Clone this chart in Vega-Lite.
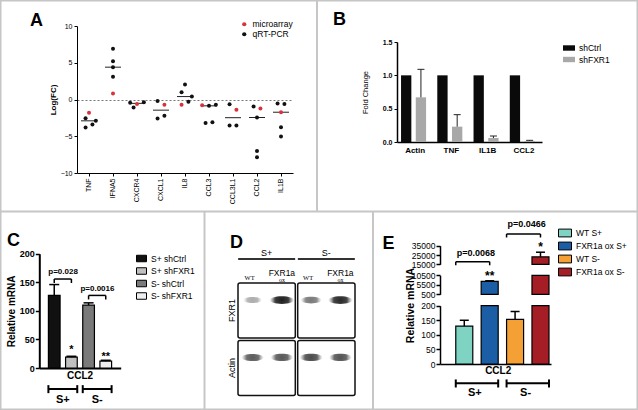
{
  "$schema": "https://vega.github.io/schema/vega-lite/v6.json",
  "width": 638,
  "height": 410,
  "autosize": "none",
  "padding": 0,
  "config": {
    "font": "Liberation Sans",
    "view": {"stroke": "#c6c6c6", "strokeWidth": 3},
    "axis": {"grid": false, "domainColor": "#000000", "tickColor": "#000000", "labelColor": "#000000", "titleColor": "#000000"},
    "legend": {"labelColor": "#000000"}
  },
  "resolve": {
    "scale": {"x": "independent", "y": "independent", "xOffset": "independent", "color": "independent", "opacity": "independent", "size": "independent"},
    "axis": {"x": "independent", "y": "independent"},
    "legend": {"color": "independent"}
  },
  "layer": [
    {
      "data": {"values": [{"v": 0}]},
      "mark": {"type": "point", "opacity": 0},
      "encoding": {
        "x": {"field": "v", "type": "quantitative", "scale": {"domain": [0, 1], "range": [0, 638]}, "axis": {"orient": "top", "offset": -211, "labels": false, "ticks": false, "title": null, "domainColor": "#c6c6c6", "domainWidth": 2}},
        "y": {"field": "v", "type": "quantitative", "scale": {"domain": [0, 1], "range": [0, 211]}, "axis": {"orient": "left", "offset": -316.5, "labels": false, "ticks": false, "title": null, "domainColor": "#c6c6c6", "domainWidth": 2}}
      }
    },
    {
      "data": {"values": [{"v": 0}]},
      "mark": {"type": "point", "opacity": 0},
      "encoding": {
        "y": {"field": "v", "type": "quantitative", "scale": {"domain": [0, 1], "range": [211, 410]}, "axis": {"orient": "left", "offset": -204, "labels": false, "ticks": false, "title": null, "domainColor": "#c6c6c6", "domainWidth": 2}}
      }
    },
    {
      "data": {"values": [{"v": 0}]},
      "mark": {"type": "point", "opacity": 0},
      "encoding": {
        "y": {"field": "v", "type": "quantitative", "scale": {"domain": [0, 1], "range": [211, 410]}, "axis": {"orient": "left", "offset": -372.5, "labels": false, "ticks": false, "title": null, "domainColor": "#c6c6c6", "domainWidth": 2}}
      }
    },
    {
      "data": {"values": [
        {"gene": "TNF", "method": "microarray", "value": -1.8, "slot": 0},
        {"gene": "TNF", "method": "qRT-PCR", "value": -2.55, "slot": -1},
        {"gene": "TNF", "method": "qRT-PCR", "value": -3.8, "slot": -1},
        {"gene": "TNF", "method": "qRT-PCR", "value": -3.4, "slot": 1},
        {"gene": "TNF", "method": "qRT-PCR", "value": -2.9, "slot": 2},
        {"gene": "IFNA5", "method": "qRT-PCR", "value": 6.9, "slot": 0},
        {"gene": "IFNA5", "method": "qRT-PCR", "value": 5.2, "slot": 0},
        {"gene": "IFNA5", "method": "qRT-PCR", "value": 4.4, "slot": 0},
        {"gene": "IFNA5", "method": "qRT-PCR", "value": 3.1, "slot": 0},
        {"gene": "IFNA5", "method": "microarray", "value": 0.8, "slot": 0},
        {"gene": "CXCR4", "method": "qRT-PCR", "value": -0.45, "slot": -2},
        {"gene": "CXCR4", "method": "qRT-PCR", "value": -1.1, "slot": -1},
        {"gene": "CXCR4", "method": "qRT-PCR", "value": -0.37, "slot": 2},
        {"gene": "CXCR4", "method": "microarray", "value": -0.6, "slot": 0},
        {"gene": "CXCL1", "method": "qRT-PCR", "value": -0.2, "slot": -1},
        {"gene": "CXCL1", "method": "qRT-PCR", "value": -2.6, "slot": -1},
        {"gene": "CXCL1", "method": "qRT-PCR", "value": -2.2, "slot": 1},
        {"gene": "CXCL1", "method": "microarray", "value": -0.7, "slot": 1},
        {"gene": "IL8", "method": "qRT-PCR", "value": 2.05, "slot": 0},
        {"gene": "IL8", "method": "qRT-PCR", "value": 1.0, "slot": -1},
        {"gene": "IL8", "method": "qRT-PCR", "value": 0.4, "slot": 2},
        {"gene": "IL8", "method": "qRT-PCR", "value": -0.3, "slot": 1},
        {"gene": "IL8", "method": "microarray", "value": -0.7, "slot": -1},
        {"gene": "CCL3", "method": "microarray", "value": -0.77, "slot": -2},
        {"gene": "CCL3", "method": "qRT-PCR", "value": -0.86, "slot": 0},
        {"gene": "CCL3", "method": "qRT-PCR", "value": -0.72, "slot": 2},
        {"gene": "CCL3", "method": "qRT-PCR", "value": -3.2, "slot": -1},
        {"gene": "CCL3", "method": "qRT-PCR", "value": -3.1, "slot": 1},
        {"gene": "CCL3L1", "method": "qRT-PCR", "value": -0.64, "slot": -1},
        {"gene": "CCL3L1", "method": "microarray", "value": -1.4, "slot": 1},
        {"gene": "CCL3L1", "method": "qRT-PCR", "value": -3.55, "slot": -1},
        {"gene": "CCL3L1", "method": "qRT-PCR", "value": -3.55, "slot": 1},
        {"gene": "CCL2", "method": "qRT-PCR", "value": -0.95, "slot": -1},
        {"gene": "CCL2", "method": "microarray", "value": -1.23, "slot": 1},
        {"gene": "CCL2", "method": "qRT-PCR", "value": -2.45, "slot": 0},
        {"gene": "CCL2", "method": "qRT-PCR", "value": -7.0, "slot": 0},
        {"gene": "CCL2", "method": "qRT-PCR", "value": -7.87, "slot": 0},
        {"gene": "IL1B", "method": "qRT-PCR", "value": -0.55, "slot": -1},
        {"gene": "IL1B", "method": "qRT-PCR", "value": -0.6, "slot": 1},
        {"gene": "IL1B", "method": "microarray", "value": -1.73, "slot": 0},
        {"gene": "IL1B", "method": "qRT-PCR", "value": -3.77, "slot": 0},
        {"gene": "IL1B", "method": "qRT-PCR", "value": -5.05, "slot": 0}
      ]},
      "layer": [
        {
          "mark": {"type": "tick", "color": "#222222", "size": 16, "thickness": 1, "opacity": 1},
          "encoding": {
            "x": {"field": "gene", "type": "nominal", "scale": {"type": "band", "domain": ["TNF", "IFNA5", "CXCR4", "CXCL1", "IL8", "CCL3", "CCL3L1", "CCL2", "IL1B"], "range": [77, 293], "paddingInner": 0, "paddingOuter": 0},
              "axis": {"orient": "bottom", "offset": -237, "labelAngle": -90, "labelFontSize": 7, "tickSize": 3, "labelPadding": 2, "title": "A", "titleX": 36, "titleY": -153, "titleAngle": 0, "titleFontSize": 18, "titleFontWeight": "bold", "titleAlign": "center", "titleBaseline": "middle"}},
            "y": {"aggregate": "median", "field": "value", "type": "quantitative", "scale": {"domain": [-10, 10], "range": [173, 26], "nice": false, "zero": false},
              "axis": {"orient": "left", "offset": -77, "values": [-10, -5, 0, 5, 10], "labelFontSize": 7, "tickSize": 3, "labelPadding": 2, "title": "Log(FC)", "titleFontSize": 8, "titleFontWeight": "bold", "titlePadding": 3, "grid": true, "gridColor": "#777777", "gridDash": [2, 2], "gridWidth": 1, "gridOpacity": {"condition": {"test": "datum.value === 0", "value": 1}, "value": 0}}}
          }
        },
        {
          "mark": {"type": "point", "filled": true, "size": 16, "opacity": 1},
          "encoding": {
            "x": {"field": "gene", "type": "nominal", "scale": {"type": "band", "domain": ["TNF", "IFNA5", "CXCR4", "CXCL1", "IL8", "CCL3", "CCL3L1", "CCL2", "IL1B"], "range": [77, 293], "paddingInner": 0, "paddingOuter": 0},
              "axis": {"orient": "bottom", "offset": -237, "labelAngle": -90, "labelFontSize": 7, "tickSize": 3, "labelPadding": 2, "title": "A", "titleX": 36, "titleY": -153, "titleAngle": 0, "titleFontSize": 18, "titleFontWeight": "bold", "titleAlign": "center", "titleBaseline": "middle"}},
            "xOffset": {"field": "slot", "type": "nominal", "scale": {"domain": [-3, -2, -1, 0, 1, 2, 3]}},
            "y": {"field": "value", "type": "quantitative", "scale": {"domain": [-10, 10], "range": [173, 26], "nice": false, "zero": false},
              "axis": {"orient": "left", "offset": -77, "values": [-10, -5, 0, 5, 10], "labelFontSize": 7, "tickSize": 3, "labelPadding": 2, "title": "Log(FC)", "titleFontSize": 8, "titleFontWeight": "bold", "titlePadding": 3, "grid": true, "gridColor": "#777777", "gridDash": [2, 2], "gridWidth": 1, "gridOpacity": {"condition": {"test": "datum.value === 0", "value": 1}, "value": 0}}},
            "color": {"field": "method", "type": "nominal", "scale": {"domain": ["microarray", "qRT-PCR"], "range": ["#d8323c", "#111111"]},
              "legend": {"title": null, "orient": "none", "legendX": 240, "legendY": 20, "labelFontSize": 8.5, "symbolSize": 18, "symbolType": "circle", "rowPadding": 1}}
          }
        }
      ]
    },
    {
      "data": {"values": [
        {"gene": "Actin", "series": "shCtrl", "value": 1},
        {"gene": "Actin", "series": "shFXR1", "value": 0.67, "upper": 1.09},
        {"gene": "TNF", "series": "shCtrl", "value": 1},
        {"gene": "TNF", "series": "shFXR1", "value": 0.23, "upper": 0.41},
        {"gene": "IL1B", "series": "shCtrl", "value": 1},
        {"gene": "IL1B", "series": "shFXR1", "value": 0.06, "upper": 0.09},
        {"gene": "CCL2", "series": "shCtrl", "value": 1},
        {"gene": "CCL2", "series": "shFXR1", "value": 0.015, "upper": 0.025}
      ]},
      "encoding": {
        "x": {"field": "gene", "type": "nominal", "scale": {"type": "band", "domain": ["Actin", "TNF", "IL1B", "CCL2"], "range": [397, 542], "paddingInner": 0, "paddingOuter": 0},
          "axis": {"orient": "bottom", "offset": -268, "labelAngle": 0, "labelFontSize": 8, "labelFontWeight": "bold", "ticks": false, "domainWidth": 1.5, "labelPadding": 4, "title": "B", "titleX": 339, "titleY": -123, "titleAngle": 0, "titleFontSize": 18, "titleFontWeight": "bold", "titleAlign": "center", "titleBaseline": "middle"}},
        "xOffset": {"field": "series", "type": "nominal", "scale": {"domain": ["shCtrl", "shFXR1"], "paddingInner": 0.3, "paddingOuter": 0.38, "align": 0.36}}
      },
      "layer": [
        {
          "mark": {"type": "bar"},
          "encoding": {
            "y": {"field": "value", "type": "quantitative", "scale": {"domain": [0, 1.5], "range": [142, 42], "nice": false},
              "axis": {"orient": "left", "offset": -397, "values": [0, 0.5, 1, 1.5], "format": ".1f", "labelFontSize": 7, "labelFontWeight": "bold", "tickSize": 3, "domainWidth": 1.5, "title": "Fold Change", "titleFontSize": 7.5, "titleFontWeight": "normal", "titlePadding": 13}},
            "color": {"field": "series", "type": "nominal", "scale": {"domain": ["shCtrl", "shFXR1"], "range": ["#0a0a0a", "#a8a8a8"]},
              "legend": {"title": null, "orient": "none", "legendX": 563, "legendY": 42, "symbolType": "M-1,-0.45H1V0.45H-1Z", "symbolSize": 144, "labelFontSize": 8.5, "rowPadding": 0.5, "symbolStrokeWidth": 0}}
          }
        },
        {
          "transform": [{"filter": "isValid(datum.upper)"}],
          "mark": {"type": "rule", "color": "#222222", "strokeWidth": 1},
          "encoding": {
            "y": {"field": "value", "type": "quantitative", "scale": {"domain": [0, 1.5], "range": [142, 42], "nice": false}},
            "y2": {"field": "upper"}
          }
        },
        {
          "transform": [{"filter": "isValid(datum.upper)"}],
          "mark": {"type": "tick", "color": "#222222", "size": 7, "thickness": 1, "opacity": 1},
          "encoding": {
            "y": {"field": "upper", "type": "quantitative", "scale": {"domain": [0, 1.5], "range": [142, 42], "nice": false}}
          }
        }
      ]
    },
    {
      "layer": [
        {
          "data": {"values": [
            {"grp": "S+ shCtrl", "value": 127, "upper": 146},
            {"grp": "S+ shFXR1", "value": 19, "upper": 20.5},
            {"grp": "S- shCtrl", "value": 110, "upper": 114},
            {"grp": "S- shFXR1", "value": 12, "upper": 13.5}
          ]},
          "encoding": {
            "x": {"field": "grp", "type": "nominal", "scale": {"type": "band", "domain": ["S+ shCtrl", "S+ shFXR1", "S- shCtrl", "S- shFXR1"], "range": [39.3, 120.7], "paddingInner": 0.32, "paddingOuter": 0.53},
              "axis": {"orient": "bottom", "offset": -42, "labels": false, "ticks": false, "domainWidth": 2, "title": "C", "titleX": 13, "titleY": -128, "titleAngle": 0, "titleFontSize": 18, "titleFontWeight": "bold", "titleAlign": "center", "titleBaseline": "middle"}}
          },
          "layer": [
            {
              "mark": {"type": "bar", "stroke": "#000000", "strokeWidth": 1.2},
              "encoding": {
                "y": {"field": "value", "type": "quantitative", "scale": {"domain": [0, 200], "range": [368, 253.7], "nice": false},
                  "axis": {"orient": "left", "offset": -39.3, "values": [0, 50, 100, 150, 200], "labelFontSize": 9, "labelFontWeight": "bold", "tickSize": 4, "tickWidth": 1.5, "domainWidth": 2, "labelPadding": 1, "title": "Relative mRNA", "titleFontSize": 10, "titleFontWeight": "bold", "titlePadding": 3}},
                "color": {"field": "grp", "type": "nominal", "scale": {"domain": ["S+ shCtrl", "S+ shFXR1", "S- shCtrl", "S- shFXR1"], "range": ["#111111", "#c0c0c0", "#7a7a7a", "#eeeeee"]},
                  "legend": {"title": null, "orient": "none", "legendX": 136, "legendY": 253, "symbolType": "M-1,-0.65H1V0.65H-1Z", "symbolSize": 100, "symbolStrokeColor": "#000000", "symbolStrokeWidth": 1, "labelFontSize": 8.5, "rowPadding": 1.5}}
              }
            },
            {
              "mark": {"type": "rule", "color": "#000000", "strokeWidth": 1.5},
              "encoding": {
                "y": {"field": "value", "type": "quantitative", "scale": {"domain": [0, 200], "range": [368, 253.7], "nice": false}},
                "y2": {"field": "upper"}
              }
            },
            {
              "mark": {"type": "tick", "color": "#000000", "size": 10, "thickness": 1.5, "opacity": 1},
              "encoding": {
                "y": {"field": "upper", "type": "quantitative", "scale": {"domain": [0, 200], "range": [368, 253.7], "nice": false}}
              }
            }
          ]
        },
        {
          "data": {"values": [
            {"from": "S+ shCtrl", "to": "S+ shFXR1", "y": 155.7, "y0": 148.7, "ty": 168, "label": "p=0.028"},
            {"from": "S- shCtrl", "to": "S- shFXR1", "y": 127, "y0": 120, "ty": 138.7, "label": "p=0.0016"}
          ]},
          "layer": [
            {
              "mark": {"type": "rule", "color": "#000000", "strokeWidth": 1.5},
              "encoding": {
                "x": {"field": "from", "type": "nominal", "scale": {"type": "band", "domain": ["S+ shCtrl", "S+ shFXR1", "S- shCtrl", "S- shFXR1"], "range": [39.3, 120.7], "paddingInner": 0.32, "paddingOuter": 0.53}},
                "x2": {"field": "to"},
                "y": {"field": "y", "type": "quantitative", "scale": {"domain": [0, 200], "range": [368, 253.7], "nice": false}}
              }
            },
            {
              "mark": {"type": "rule", "color": "#000000", "strokeWidth": 1.5},
              "encoding": {
                "x": {"field": "from", "type": "nominal", "scale": {"type": "band", "domain": ["S+ shCtrl", "S+ shFXR1", "S- shCtrl", "S- shFXR1"], "range": [39.3, 120.7], "paddingInner": 0.32, "paddingOuter": 0.53}},
                "y": {"field": "y", "type": "quantitative", "scale": {"domain": [0, 200], "range": [368, 253.7], "nice": false}},
                "y2": {"field": "y0"}
              }
            },
            {
              "mark": {"type": "rule", "color": "#000000", "strokeWidth": 1.5},
              "encoding": {
                "x": {"field": "to", "type": "nominal", "scale": {"type": "band", "domain": ["S+ shCtrl", "S+ shFXR1", "S- shCtrl", "S- shFXR1"], "range": [39.3, 120.7], "paddingInner": 0.32, "paddingOuter": 0.53}},
                "y": {"field": "y", "type": "quantitative", "scale": {"domain": [0, 200], "range": [368, 253.7], "nice": false}},
                "y2": {"field": "y0"}
              }
            },
            {
              "mark": {"type": "text", "fontSize": 8, "fontWeight": "bold", "dx": 3, "baseline": "middle"},
              "encoding": {
                "x": {"field": "from", "type": "nominal", "bandPosition": 1, "scale": {"type": "band", "domain": ["S+ shCtrl", "S+ shFXR1", "S- shCtrl", "S- shFXR1"], "range": [39.3, 120.7], "paddingInner": 0.32, "paddingOuter": 0.53}},
                "y": {"field": "ty", "type": "quantitative", "scale": {"domain": [0, 200], "range": [368, 253.7], "nice": false}},
                "text": {"field": "label"}
              }
            }
          ]
        },
        {
          "data": {"values": [
            {"grp": "S+ shFXR1", "label": "*", "y": 26},
            {"grp": "S- shFXR1", "label": "**", "y": 13.5}
          ]},
          "mark": {"type": "text", "fontSize": 11, "fontWeight": "bold", "baseline": "alphabetic"},
          "encoding": {
            "x": {"field": "grp", "type": "nominal", "scale": {"type": "band", "domain": ["S+ shCtrl", "S+ shFXR1", "S- shCtrl", "S- shFXR1"], "range": [39.3, 120.7], "paddingInner": 0.32, "paddingOuter": 0.53}},
            "y": {"field": "y", "type": "quantitative", "scale": {"domain": [0, 200], "range": [368, 253.7], "nice": false}},
            "text": {"field": "label"}
          }
        },
        {
          "data": {"values": [
            {"from": "S+ shCtrl", "to": "S+ shFXR1", "label": "S+", "y": -36.7, "ya": -30, "yb": -44, "ty": -56},
            {"from": "S- shCtrl", "to": "S- shFXR1", "label": "S-", "y": -36.7, "ya": -30, "yb": -44, "ty": -56}
          ]},
          "layer": [
            {
              "mark": {"type": "rule", "color": "#000000", "strokeWidth": 2},
              "encoding": {
                "x": {"field": "from", "type": "nominal", "bandPosition": 0, "scale": {"type": "band", "domain": ["S+ shCtrl", "S+ shFXR1", "S- shCtrl", "S- shFXR1"], "range": [39.3, 120.7], "paddingInner": 0.32, "paddingOuter": 0.53}},
                "x2": {"field": "to", "bandPosition": 1},
                "y": {"field": "y", "type": "quantitative", "scale": {"domain": [0, 200], "range": [368, 253.7], "nice": false}}
              }
            },
            {
              "mark": {"type": "rule", "color": "#000000", "strokeWidth": 2},
              "encoding": {
                "x": {"field": "from", "type": "nominal", "bandPosition": 0, "scale": {"type": "band", "domain": ["S+ shCtrl", "S+ shFXR1", "S- shCtrl", "S- shFXR1"], "range": [39.3, 120.7], "paddingInner": 0.32, "paddingOuter": 0.53}},
                "y": {"field": "ya", "type": "quantitative", "scale": {"domain": [0, 200], "range": [368, 253.7], "nice": false}},
                "y2": {"field": "yb"}
              }
            },
            {
              "mark": {"type": "rule", "color": "#000000", "strokeWidth": 2},
              "encoding": {
                "x": {"field": "to", "type": "nominal", "bandPosition": 1, "scale": {"type": "band", "domain": ["S+ shCtrl", "S+ shFXR1", "S- shCtrl", "S- shFXR1"], "range": [39.3, 120.7], "paddingInner": 0.32, "paddingOuter": 0.53}},
                "y": {"field": "ya", "type": "quantitative", "scale": {"domain": [0, 200], "range": [368, 253.7], "nice": false}},
                "y2": {"field": "yb"}
              }
            },
            {
              "mark": {"type": "text", "fontSize": 11, "fontWeight": "bold", "dx": 2.75, "baseline": "middle"},
              "encoding": {
                "x": {"field": "from", "type": "nominal", "bandPosition": 1, "scale": {"type": "band", "domain": ["S+ shCtrl", "S+ shFXR1", "S- shCtrl", "S- shFXR1"], "range": [39.3, 120.7], "paddingInner": 0.32, "paddingOuter": 0.53}},
                "y": {"field": "ty", "type": "quantitative", "scale": {"domain": [0, 200], "range": [368, 253.7], "nice": false}},
                "text": {"field": "label"}
              }
            }
          ]
        },
        {
          "data": {"values": [{"grp": "S+ shFXR1", "label": "CCL2", "y": -13.5}]},
          "mark": {"type": "text", "fontSize": 10, "fontWeight": "bold", "dx": 2.75, "baseline": "middle"},
          "encoding": {
            "x": {"field": "grp", "type": "nominal", "bandPosition": 1, "scale": {"type": "band", "domain": ["S+ shCtrl", "S+ shFXR1", "S- shCtrl", "S- shFXR1"], "range": [39.3, 120.7], "paddingInner": 0.32, "paddingOuter": 0.53}},
            "y": {"field": "y", "type": "quantitative", "scale": {"domain": [0, 200], "range": [368, 253.7], "nice": false}},
            "text": {"field": "label"}
          }
        }
      ]
    },
    {
      "resolve": {"scale": {"x": "independent"}, "axis": {"x": "independent"}},
      "layer": [
        {
          "data": {"values": [
            {"cond": "S+", "blot": "FXR1"},
            {"cond": "S-", "blot": "FXR1"},
            {"cond": "S+", "blot": "Actin"},
            {"cond": "S-", "blot": "Actin"}
          ]},
          "layer": [
            {
              "mark": {"type": "rect", "fill": "#ffffff", "stroke": "#111111", "strokeWidth": 1.5, "cornerRadius": 2},
              "encoding": {
                "x": {"field": "cond", "type": "nominal", "scale": {"type": "band", "domain": ["S+", "S-"], "range": [238, 355], "paddingInner": 0.04, "paddingOuter": 0},
                  "axis": {"orient": "top", "offset": -259, "domain": false, "ticks": false, "labelAngle": 0, "labelFontSize": 9, "labelPadding": 2, "title": "D", "titleX": 236, "titleY": -16.5, "titleAngle": 0, "titleFontSize": 18, "titleFontWeight": "bold", "titleAlign": "center", "titleBaseline": "middle"}},
                "y": {"field": "blot", "type": "nominal", "scale": {"type": "band", "domain": ["FXR1", "Actin"], "range": [283, 395.5], "paddingInner": 0.04, "paddingOuter": 0},
                  "axis": {"orient": "left", "offset": -236, "domain": false, "ticks": false, "labelAngle": -90, "labelFontSize": 9, "labelPadding": 0, "title": null}}
              }
            },
            {
              "transform": [{"filter": "datum.blot === 'FXR1'"}],
              "mark": {"type": "tick", "orient": "horizontal", "color": "#333333", "size": 57, "thickness": 2, "opacity": 1, "yOffset": -24},
              "encoding": {
                "x": {"field": "cond", "type": "nominal", "scale": {"type": "band", "domain": ["S+", "S-"], "range": [238, 355], "paddingInner": 0.04, "paddingOuter": 0},
                  "axis": {"orient": "top", "offset": -259, "domain": false, "ticks": false, "labelAngle": 0, "labelFontSize": 9, "labelPadding": 2, "title": "D", "titleX": 236, "titleY": -16.5, "titleAngle": 0, "titleFontSize": 18, "titleFontWeight": "bold", "titleAlign": "center", "titleBaseline": "middle"}},
                "y": {"field": "blot", "type": "nominal", "bandPosition": 0, "scale": {"type": "band", "domain": ["FXR1", "Actin"], "range": [283, 395.5], "paddingInner": 0.04, "paddingOuter": 0}}
              }
            }
          ]
        },
        {
          "data": {"values": [
            {"lane": "S+ WT", "blot": "FXR1", "intensity": 0.3},
            {"lane": "S+ FXR1a ox", "blot": "FXR1", "intensity": 1.0},
            {"lane": "S- WT", "blot": "FXR1", "intensity": 0.55},
            {"lane": "S- FXR1a ox", "blot": "FXR1", "intensity": 0.95},
            {"lane": "S+ WT", "blot": "Actin", "intensity": 0.7},
            {"lane": "S+ FXR1a ox", "blot": "Actin", "intensity": 0.72},
            {"lane": "S- WT", "blot": "Actin", "intensity": 0.78},
            {"lane": "S- FXR1a ox", "blot": "Actin", "intensity": 0.74}
          ]},
          "mark": {"type": "point", "filled": true, "shape": "M-1,0A1,0.32,0,1,0,1,0A1,0.32,0,1,0,-1,0Z", "yOffset": -10.5,
            "color": {"gradient": "radial", "stops": [{"offset": 0, "color": "#1e1e1e"}, {"offset": 0.55, "color": "#3c3c3c"}, {"offset": 1, "color": "rgba(120,120,120,0)"}]}},
          "encoding": {
            "x": {"field": "lane", "type": "nominal", "scale": {"type": "band", "domain": ["S+ WT", "S+ FXR1a ox", "S- WT", "S- FXR1a ox"], "range": [238, 355], "paddingInner": 0, "paddingOuter": 0}, "axis": null},
            "y": {"field": "blot", "type": "nominal", "scale": {"type": "band", "domain": ["FXR1", "Actin"], "range": [283, 395.5], "paddingInner": 0.04, "paddingOuter": 0}},
            "opacity": {"field": "intensity", "type": "quantitative", "scale": {"domain": [0, 1], "range": [0.1, 1]}, "legend": null},
            "size": {"field": "intensity", "type": "quantitative", "scale": {"domain": [0, 1], "range": [250, 600]}, "legend": null}
          }
        },
        {
          "data": {"values": [
            {"lane": "S+ WT", "blot": "FXR1"},
            {"lane": "S- WT", "blot": "FXR1"}
          ]},
          "mark": {"type": "text", "fontSize": 6.5, "dy": -5, "dx": -3, "baseline": "middle", "font": "Liberation Serif"},
          "encoding": {
            "x": {"field": "lane", "type": "nominal", "scale": {"type": "band", "domain": ["S+ WT", "S+ FXR1a ox", "S- WT", "S- FXR1a ox"], "range": [238, 355], "paddingInner": 0, "paddingOuter": 0}, "axis": null},
            "y": {"field": "blot", "type": "nominal", "bandPosition": 0, "scale": {"type": "band", "domain": ["FXR1", "Actin"], "range": [283, 395.5], "paddingInner": 0.04, "paddingOuter": 0}},
            "text": {"value": "WT"}
          }
        },
        {
          "data": {"values": [
            {"lane": "S+ FXR1a ox", "blot": "FXR1"},
            {"lane": "S- FXR1a ox", "blot": "FXR1"}
          ]},
          "layer": [
            {
              "mark": {"type": "text", "fontSize": 8.5, "dy": -10.5, "baseline": "middle"},
              "encoding": {
                "x": {"field": "lane", "type": "nominal", "scale": {"type": "band", "domain": ["S+ WT", "S+ FXR1a ox", "S- WT", "S- FXR1a ox"], "range": [238, 355], "paddingInner": 0, "paddingOuter": 0}, "axis": null},
                "y": {"field": "blot", "type": "nominal", "bandPosition": 0, "scale": {"type": "band", "domain": ["FXR1", "Actin"], "range": [283, 395.5], "paddingInner": 0.04, "paddingOuter": 0}},
                "text": {"value": "FXR1a"}
              }
            },
            {
              "mark": {"type": "text", "fontSize": 6, "dy": -3.5, "baseline": "middle", "font": "Liberation Serif"},
              "encoding": {
                "x": {"field": "lane", "type": "nominal", "scale": {"type": "band", "domain": ["S+ WT", "S+ FXR1a ox", "S- WT", "S- FXR1a ox"], "range": [238, 355], "paddingInner": 0, "paddingOuter": 0}, "axis": null},
                "y": {"field": "blot", "type": "nominal", "bandPosition": 0, "scale": {"type": "band", "domain": ["FXR1", "Actin"], "range": [283, 395.5], "paddingInner": 0.04, "paddingOuter": 0}},
                "text": {"value": "ox"}
              }
            }
          ]
        }
      ]
    },
    {
      "resolve": {"scale": {"y": "independent"}, "axis": {"y": "independent"}},
      "layer": [
        {
          "data": {"values": [
            {"grp": "WT S+", "value": 130, "upper": 150},
            {"grp": "FXR1a ox S+", "value": 7300, "upper": 7600},
            {"grp": "WT S-", "value": 153, "upper": 180},
            {"grp": "FXR1a ox S-", "value": 23000, "upper": 28000}
          ]},
          "encoding": {
            "x": {"field": "grp", "type": "nominal", "scale": {"type": "band", "domain": ["WT S+", "FXR1a ox S+", "WT S-", "FXR1a ox S-"], "range": [440, 551], "paddingInner": 0.33, "paddingOuter": 0.35, "align": 0.887},
              "axis": {"orient": "bottom", "offset": -46, "labels": false, "ticks": false, "domainWidth": 1.5, "title": "E", "titleX": 388, "titleY": -121, "titleAngle": 0, "titleFontSize": 18, "titleFontWeight": "bold", "titleAlign": "center", "titleBaseline": "middle"}}
          },
          "layer": [
            {
              "mark": {"type": "bar", "stroke": "#000000", "strokeWidth": 1.2},
              "encoding": {
                "y": {"field": "value", "type": "quantitative", "scale": {"domain": [0, 200], "range": [364, 305.7], "nice": false, "clamp": true},
                  "axis": {"orient": "left", "offset": -440, "values": [0, 50, 100, 150, 200], "format": "d", "labelFontSize": 8.5, "tickSize": 4, "tickWidth": 1.5, "domainWidth": 1.5, "labelPadding": 1, "title": "Relative mRNA", "titleFontSize": 10.5, "titleFontWeight": "bold", "titleY": 305, "titlePadding": 5}},
                "color": {"field": "grp", "type": "nominal", "scale": {"domain": ["WT S+", "FXR1a ox S+", "WT S-", "FXR1a ox S-"], "range": ["#7fd3c2", "#1c5ea6", "#f5a035", "#a61e25"]},
                  "legend": {"title": null, "orient": "none", "legendX": 558, "legendY": 226, "symbolType": "M-1,-0.6H1V0.6H-1Z", "symbolSize": 169, "symbolStrokeColor": "#000000", "symbolStrokeWidth": 1, "labelFontSize": 8.5, "rowPadding": 0}}
              }
            },
            {
              "transform": [{"filter": "datum.upper <= 200"}],
              "mark": {"type": "rule", "color": "#000000", "strokeWidth": 1.5},
              "encoding": {
                "y": {"field": "value", "type": "quantitative", "scale": {"domain": [0, 200], "range": [364, 305.7], "nice": false, "clamp": true}},
                "y2": {"field": "upper"}
              }
            },
            {
              "transform": [{"filter": "datum.upper <= 200"}],
              "mark": {"type": "tick", "color": "#000000", "size": 9, "thickness": 1.5, "opacity": 1},
              "encoding": {
                "y": {"field": "upper", "type": "quantitative", "scale": {"domain": [0, 200], "range": [364, 305.7], "nice": false, "clamp": true}}
              }
            }
          ]
        },
        {
          "data": {"values": [
            {"grp": "WT S+", "value": 130, "upper": 150},
            {"grp": "FXR1a ox S+", "value": 7300, "upper": 7600},
            {"grp": "WT S-", "value": 153, "upper": 180},
            {"grp": "FXR1a ox S-", "value": 23000, "upper": 28000}
          ]},
          "transform": [{"filter": "datum.value > 500"}],
          "encoding": {
            "x": {"field": "grp", "type": "nominal", "scale": {"type": "band", "domain": ["WT S+", "FXR1a ox S+", "WT S-", "FXR1a ox S-"], "range": [440, 551], "paddingInner": 0.33, "paddingOuter": 0.35, "align": 0.887},
              "axis": {"orient": "bottom", "offset": -46, "labels": false, "ticks": false, "domainWidth": 1.5, "title": "E", "titleX": 388, "titleY": -121, "titleAngle": 0, "titleFontSize": 18, "titleFontWeight": "bold", "titleAlign": "center", "titleBaseline": "middle"}}
          },
          "layer": [
            {
              "mark": {"type": "bar", "stroke": "#000000", "strokeWidth": 1.2},
              "encoding": {
                "y": {"field": "value", "type": "quantitative", "scale": {"domain": [500, 10500], "range": [294.3, 275.3], "nice": false, "zero": false, "clamp": true},
                  "axis": {"orient": "left", "offset": -440, "values": [500, 5500, 10500], "format": "d", "labelFontSize": 8.5, "tickSize": 4, "tickWidth": 1.5, "domainWidth": 1.5, "labelPadding": 1, "title": null}},
                "color": {"field": "grp", "type": "nominal", "scale": {"domain": ["WT S+", "FXR1a ox S+", "WT S-", "FXR1a ox S-"], "range": ["#7fd3c2", "#1c5ea6", "#f5a035", "#a61e25"]}, "legend": null}
              }
            },
            {
              "transform": [{"filter": "datum.upper <= 10500"}],
              "mark": {"type": "rule", "color": "#000000", "strokeWidth": 1.5},
              "encoding": {
                "y": {"field": "value", "type": "quantitative", "scale": {"domain": [500, 10500], "range": [294.3, 275.3], "nice": false, "zero": false, "clamp": true}},
                "y2": {"field": "upper"}
              }
            },
            {
              "transform": [{"filter": "datum.upper <= 10500"}],
              "mark": {"type": "tick", "color": "#000000", "size": 9, "thickness": 1.5, "opacity": 1},
              "encoding": {
                "y": {"field": "upper", "type": "quantitative", "scale": {"domain": [500, 10500], "range": [294.3, 275.3], "nice": false, "zero": false, "clamp": true}}
              }
            }
          ]
        },
        {
          "data": {"values": [
            {"grp": "WT S+", "value": 130, "upper": 150},
            {"grp": "FXR1a ox S+", "value": 7300, "upper": 7600},
            {"grp": "WT S-", "value": 153, "upper": 180},
            {"grp": "FXR1a ox S-", "value": 23000, "upper": 28000}
          ]},
          "transform": [{"filter": "datum.value > 15000"}],
          "encoding": {
            "x": {"field": "grp", "type": "nominal", "scale": {"type": "band", "domain": ["WT S+", "FXR1a ox S+", "WT S-", "FXR1a ox S-"], "range": [440, 551], "paddingInner": 0.33, "paddingOuter": 0.35, "align": 0.887},
              "axis": {"orient": "bottom", "offset": -46, "labels": false, "ticks": false, "domainWidth": 1.5, "title": "E", "titleX": 388, "titleY": -121, "titleAngle": 0, "titleFontSize": 18, "titleFontWeight": "bold", "titleAlign": "center", "titleBaseline": "middle"}}
          },
          "layer": [
            {
              "mark": {"type": "bar", "stroke": "#000000", "strokeWidth": 1.2},
              "encoding": {
                "y": {"field": "value", "type": "quantitative", "scale": {"domain": [15000, 35000], "range": [264.3, 245.7], "nice": false, "zero": false, "clamp": true},
                  "axis": {"orient": "left", "offset": -440, "values": [15000, 25000, 35000], "format": "d", "labelFontSize": 8.5, "tickSize": 4, "tickWidth": 1.5, "domainWidth": 1.5, "labelPadding": 1, "title": null}},
                "color": {"field": "grp", "type": "nominal", "scale": {"domain": ["WT S+", "FXR1a ox S+", "WT S-", "FXR1a ox S-"], "range": ["#7fd3c2", "#1c5ea6", "#f5a035", "#a61e25"]}, "legend": null}
              }
            },
            {
              "mark": {"type": "rule", "color": "#000000", "strokeWidth": 1.5},
              "encoding": {
                "y": {"field": "value", "type": "quantitative", "scale": {"domain": [15000, 35000], "range": [264.3, 245.7], "nice": false, "zero": false, "clamp": true}},
                "y2": {"field": "upper"}
              }
            },
            {
              "mark": {"type": "tick", "color": "#000000", "size": 9, "thickness": 1.5, "opacity": 1},
              "encoding": {
                "y": {"field": "upper", "type": "quantitative", "scale": {"domain": [15000, 35000], "range": [264.3, 245.7], "nice": false, "zero": false, "clamp": true}}
              }
            }
          ]
        },
        {
          "layer": [
            {
              "data": {"values": [
                {"from": "WT S+", "to": "FXR1a ox S+", "y": 351, "y0": 338.6, "ty": 381.8, "label": "p=0.0068"},
                {"from": "WT S-", "to": "FXR1a ox S-", "y": 446, "y0": 434, "ty": 479.2, "label": "p=0.0466"}
              ]},
              "layer": [
                {
                  "mark": {"type": "rule", "color": "#000000", "strokeWidth": 1.5},
                  "encoding": {
                    "x": {"field": "from", "type": "nominal", "bandPosition": 0, "scale": {"type": "band", "domain": ["WT S+", "FXR1a ox S+", "WT S-", "FXR1a ox S-"], "range": [440, 551], "paddingInner": 0.33, "paddingOuter": 0.35, "align": 0.887}},
                    "x2": {"field": "to"},
                    "y": {"field": "y", "type": "quantitative", "scale": {"domain": [0, 200], "range": [364, 305.7], "nice": false}, "axis": null}
                  }
                },
                {
                  "mark": {"type": "rule", "color": "#000000", "strokeWidth": 1.5},
                  "encoding": {
                    "x": {"field": "from", "type": "nominal", "bandPosition": 0, "scale": {"type": "band", "domain": ["WT S+", "FXR1a ox S+", "WT S-", "FXR1a ox S-"], "range": [440, 551], "paddingInner": 0.33, "paddingOuter": 0.35, "align": 0.887}},
                    "y": {"field": "y", "type": "quantitative", "scale": {"domain": [0, 200], "range": [364, 305.7], "nice": false}, "axis": null},
                    "y2": {"field": "y0"}
                  }
                },
                {
                  "mark": {"type": "rule", "color": "#000000", "strokeWidth": 1.5},
                  "encoding": {
                    "x": {"field": "to", "type": "nominal", "scale": {"type": "band", "domain": ["WT S+", "FXR1a ox S+", "WT S-", "FXR1a ox S-"], "range": [440, 551], "paddingInner": 0.33, "paddingOuter": 0.35, "align": 0.887}},
                    "y": {"field": "y", "type": "quantitative", "scale": {"domain": [0, 200], "range": [364, 305.7], "nice": false}, "axis": null},
                    "y2": {"field": "y0"}
                  }
                },
                {
                  "mark": {"type": "text", "fontSize": 9, "fontWeight": "bold", "dx": 3, "baseline": "middle"},
                  "encoding": {
                    "x": {"field": "from", "type": "nominal", "bandPosition": 1, "scale": {"type": "band", "domain": ["WT S+", "FXR1a ox S+", "WT S-", "FXR1a ox S-"], "range": [440, 551], "paddingInner": 0.33, "paddingOuter": 0.35, "align": 0.887}},
                    "y": {"field": "ty", "type": "quantitative", "scale": {"domain": [0, 200], "range": [364, 305.7], "nice": false}, "axis": null},
                    "text": {"field": "label"}
                  }
                }
              ]
            },
            {
              "data": {"values": [
                {"grp": "FXR1a ox S+", "label": "**", "y": 287.8},
                {"grp": "FXR1a ox S-", "label": "*", "y": 388.3}
              ]},
              "mark": {"type": "text", "fontSize": 12, "fontWeight": "bold", "baseline": "alphabetic"},
              "encoding": {
                "x": {"field": "grp", "type": "nominal", "scale": {"type": "band", "domain": ["WT S+", "FXR1a ox S+", "WT S-", "FXR1a ox S-"], "range": [440, 551], "paddingInner": 0.33, "paddingOuter": 0.35, "align": 0.887}},
                "y": {"field": "y", "type": "quantitative", "scale": {"domain": [0, 200], "range": [364, 305.7], "nice": false}, "axis": null},
                "text": {"field": "label"}
              }
            },
            {
              "data": {"values": [
                {"from": "WT S+", "to": "FXR1a ox S+", "label": "S+", "y": -66.2, "ya": -53, "yb": -80.6, "ty": -100.5},
                {"from": "WT S-", "to": "FXR1a ox S-", "label": "S-", "y": -66.2, "ya": -53, "yb": -80.6, "ty": -100.5}
              ]},
              "layer": [
                {
                  "mark": {"type": "rule", "color": "#000000", "strokeWidth": 2},
                  "encoding": {
                    "x": {"field": "from", "type": "nominal", "bandPosition": 0, "scale": {"type": "band", "domain": ["WT S+", "FXR1a ox S+", "WT S-", "FXR1a ox S-"], "range": [440, 551], "paddingInner": 0.33, "paddingOuter": 0.35, "align": 0.887}},
                    "x2": {"field": "to", "bandPosition": 1},
                    "y": {"field": "y", "type": "quantitative", "scale": {"domain": [0, 200], "range": [364, 305.7], "nice": false}, "axis": null}
                  }
                },
                {
                  "mark": {"type": "rule", "color": "#000000", "strokeWidth": 2},
                  "encoding": {
                    "x": {"field": "from", "type": "nominal", "bandPosition": 0, "scale": {"type": "band", "domain": ["WT S+", "FXR1a ox S+", "WT S-", "FXR1a ox S-"], "range": [440, 551], "paddingInner": 0.33, "paddingOuter": 0.35, "align": 0.887}},
                    "y": {"field": "ya", "type": "quantitative", "scale": {"domain": [0, 200], "range": [364, 305.7], "nice": false}, "axis": null},
                    "y2": {"field": "yb"}
                  }
                },
                {
                  "mark": {"type": "rule", "color": "#000000", "strokeWidth": 2},
                  "encoding": {
                    "x": {"field": "to", "type": "nominal", "bandPosition": 1, "scale": {"type": "band", "domain": ["WT S+", "FXR1a ox S+", "WT S-", "FXR1a ox S-"], "range": [440, 551], "paddingInner": 0.33, "paddingOuter": 0.35, "align": 0.887}},
                    "y": {"field": "ya", "type": "quantitative", "scale": {"domain": [0, 200], "range": [364, 305.7], "nice": false}, "axis": null},
                    "y2": {"field": "yb"}
                  }
                },
                {
                  "mark": {"type": "text", "fontSize": 11, "fontWeight": "bold", "dx": 2, "baseline": "middle"},
                  "encoding": {
                    "x": {"field": "from", "type": "nominal", "bandPosition": 1, "scale": {"type": "band", "domain": ["WT S+", "FXR1a ox S+", "WT S-", "FXR1a ox S-"], "range": [440, 551], "paddingInner": 0.33, "paddingOuter": 0.35, "align": 0.887}},
                    "y": {"field": "ty", "type": "quantitative", "scale": {"domain": [0, 200], "range": [364, 305.7], "nice": false}, "axis": null},
                    "text": {"field": "label"}
                  }
                }
              ]
            },
            {
              "data": {"values": [{"grp": "FXR1a ox S+", "label": "CCL2", "y": -24}]},
              "mark": {"type": "text", "fontSize": 10, "fontWeight": "bold", "baseline": "middle"},
              "encoding": {
                "x": {"field": "grp", "type": "nominal", "bandPosition": 1, "scale": {"type": "band", "domain": ["WT S+", "FXR1a ox S+", "WT S-", "FXR1a ox S-"], "range": [440, 551], "paddingInner": 0.33, "paddingOuter": 0.35, "align": 0.887}},
                "y": {"field": "y", "type": "quantitative", "scale": {"domain": [0, 200], "range": [364, 305.7], "nice": false}, "axis": null},
                "text": {"field": "label"}
              }
            }
          ]
        }
      ]
    }
  ]
}
